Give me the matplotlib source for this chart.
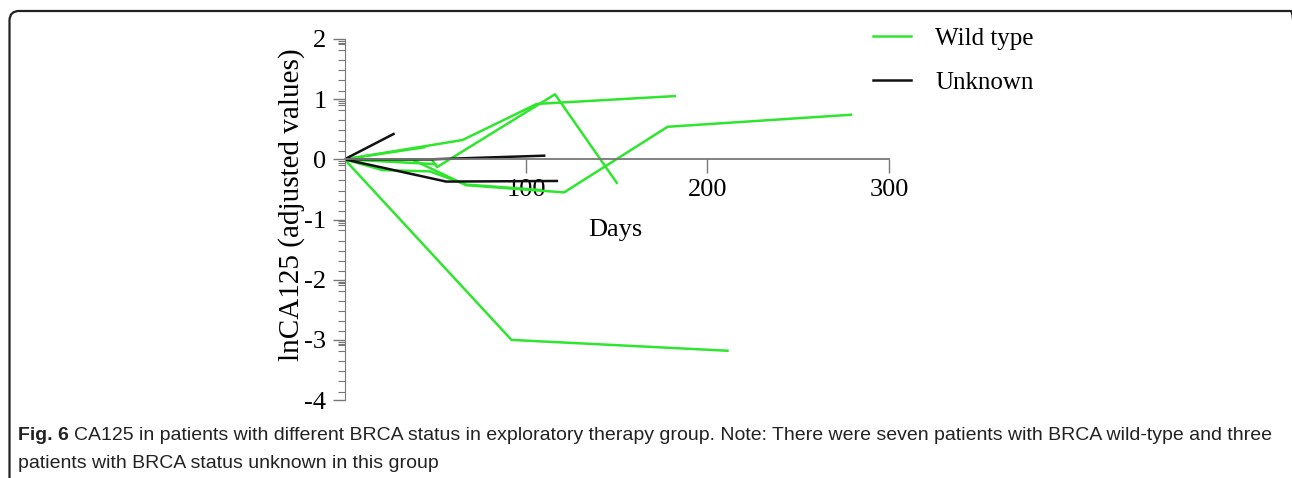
import matplotlib.pyplot as plt
from matplotlib.patches import FancyBboxPatch
from matplotlib.lines import Line2D

# wild type patients (days, adjusted lnCA125)
wt_days_1 = [0, 65, 106, 182]
wt_vals_1 = [0, 0.32, 0.92, 1.05]
wt_days_2 = [0, 44]
wt_vals_2 = [0, 0.20]
wt_days_3 = [0, 48, 51, 116, 150]
wt_vals_3 = [0, 0.0, -0.13, 1.08, -0.39]
wt_days_4 = [0, 37, 67, 121, 178, 279]
wt_vals_4 = [0, 0.0, -0.43, -0.55, 0.54, 0.74]
wt_days_5 = [0, 92, 211]
wt_vals_5 = [0, -3.0, -3.18]
wt_days_6 = [0, 21, 47, 67, 108]
wt_vals_6 = [0, -0.18, -0.20, -0.42, -0.51]
wt_days_7 = [0, 50]
wt_vals_7 = [0, -0.08]

# BRCA status unknown
uk_days_1 = [0, 27]
uk_vals_1 = [0, 0.42]
uk_days_2 = [0, 48, 110]
uk_vals_2 = [0, 0.0, 0.06]
uk_days_3 = [0, 56, 117]
uk_vals_3 = [0, -0.37, -0.36]

wild = [(wt_days_1, wt_vals_1), (wt_days_2, wt_vals_2), (wt_days_3, wt_vals_3),
        (wt_days_4, wt_vals_4), (wt_days_5, wt_vals_5), (wt_days_6, wt_vals_6),
        (wt_days_7, wt_vals_7)]
unknown = [(uk_days_1, uk_vals_1), (uk_days_2, uk_vals_2), (uk_days_3, uk_vals_3)]

green = '#2ee62e'
black = '#111111'
W, H = 1292, 478

fig = plt.figure(figsize=(W / 100, H / 100), dpi=100)

# rounded frame around figure + caption (right side runs off the image)
frame = FancyBboxPatch((9.5 / W, -0.1), 1291 / W, 1.1 - 11 / H,
                       boxstyle="round,pad=0,rounding_size=0.0075",
                       mutation_aspect=W / H,
                       transform=fig.transFigure, fill=False, edgecolor='#222222', linewidth=1.6)
fig.patches.append(frame)

ax = fig.add_axes([344.5 / W, (H - 400.1) / H, 544.5 / W, 361.2 / H])
for d, v in wild:
    ax.plot(d, v, color=green, lw=1.8, zorder=2)
for d, v in unknown:
    ax.plot(d, v, color=black, lw=1.8, zorder=2)

ax.set_xlim(0, 300)
ax.set_ylim(-4, 2)
ax.spines['top'].set_visible(False)
ax.spines['right'].set_visible(False)
ax.spines['bottom'].set_position(('data', 0))
ax.spines['bottom'].set_color('#777777')
ax.spines['left'].set_color('#777777')
ax.spines['bottom'].set_linewidth(1.3)

serif = 'Liberation Serif'
ax.set_xticks([100, 200, 300])
ax.set_xticklabels(['100', '200', '300'], fontfamily=serif, fontsize=19)
ax.tick_params(axis='x', direction='out', length=10, width=1, color='#777777', pad=4)

ax.set_yticks([2, 1, 0, -1, -2, -3, -4])
ax.set_yticklabels(['2', '1', '0', '-1', '-2', '-3', '-4'], fontfamily=serif, fontsize=19)
ax.tick_params(axis='y', which='major', direction='out', length=9, width=1, color='#777777', pad=4)
minor = []
for m in [2, 1, 0, -1, -2, -3]:
    for off in [0.03, 0.06, 0.09, 0.18, 0.35, 0.52, 0.69, 0.86]:
        minor.append(m - off)
ax.set_yticks(minor, minor=True)
ax.tick_params(axis='y', which='minor', direction='out', length=5, width=0.8, color='#777777')
ax.patch.set_alpha(0)

ax.text(149, -1.17, 'Days', fontfamily=serif, fontsize=19, ha='center', va='center')
ax.set_ylabel('lnCA125 (adjusted values)', fontfamily=serif, fontsize=21)
ax.yaxis.set_label_coords(-0.073, 0.54)

handles = [Line2D([], [], color=green, lw=1.8), Line2D([], [], color=black, lw=1.8)]
fig.legend(handles, ['Wild type', 'Unknown'], loc='upper left',
           bbox_to_anchor=(850 / W, 1 - 5 / H), frameon=False,
           prop={'family': serif, 'size': 18}, handlelength=1.55,
           handletextpad=0.95, labelspacing=0.85)

# caption
cap_font = ['Liberation Sans', 'DejaVu Sans']
t1 = fig.text(18 / W, 1 - 436 / H, 'Fig. 6', fontweight='bold', fontsize=14,
              family=cap_font, va='center', color='#222222')
fig.canvas.draw()
bb = t1.get_window_extent()
fig.text((bb.x1 + 5) / W, 1 - 436 / H,
         'CA125 in patients with different BRCA status in exploratory therapy group. '
         'Note: There were seven patients with BRCA wild-type and three',
         fontsize=14, family=cap_font, va='center', color='#222222')
fig.text(18 / W, 1 - 464 / H, 'patients with BRCA status unknown in this group',
         fontsize=14, family=cap_font, va='center', color='#222222')

fig.savefig('out.png', dpi=100)
